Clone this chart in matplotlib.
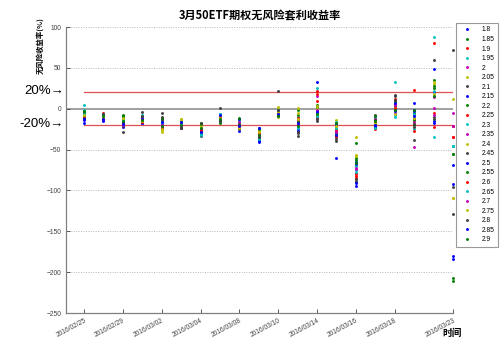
import matplotlib
matplotlib.use('Agg')
import matplotlib.pyplot as plt
import numpy as np

plt.rcParams['font.family'] = ['Liberation Sans', 'Noto Sans CJK SC', 'DejaVu Sans']

# trading days (x axis is day index), ticks shown only on some of them
days = ['2016/02/25', '2016/02/26', '2016/02/29', '2016/03/01', '2016/03/02',
        '2016/03/03', '2016/03/04', '2016/03/07', '2016/03/08', '2016/03/09',
        '2016/03/10', '2016/03/11', '2016/03/14', '2016/03/15', '2016/03/16',
        '2016/03/17', '2016/03/18', '2016/03/21', '2016/03/22', '2016/03/23']
tick_days = [0, 2, 4, 6, 8, 10, 12, 14, 16, 19]

strikes = ['1.8', '1.85', '1.9', '1.95', '2', '2.05', '2.1', '2.15', '2.2', '2.25',
           '2.3', '2.35', '2.4', '2.45', '2.5', '2.55', '2.6', '2.65', '2.7', '2.75',
           '2.8', '2.85', '2.9']

# risk-free arbitrage return (%) per day, one value per strike
d0225 = [-17, -9, -7, 4, -11, -6, -13, -10, -5, -8, -2, -12, -9, -4, -14, -7, -10, -6, -12, -8, -11, -13, -3]
d0226 = [-14, -8, -10, -6, -12, -9, -7, -13, -11, -5, -10, -14, -8, -12, -15, -9, -11, -7, -13, -10, -6, -12, -9]
d0229 = [-20, -9, -16, -14, -18, -12, -28, -22, -10, -17, -15, -19, -13, -21, -16, -8, -18, -14, -20, -11, -17, -19, -15]
d0301 = [-15, -12, -10, -14, -16, -9, -4, -17, -13, -11, -8, -15, -12, -14, -18, -10, -16, -13, -11, -15, -9, -12, -14]
d0302 = [-18, -13, -22, -16, -20, -28, -5, -24, -12, -19, -15, -21, -26, -14, -17, -11, -23, -18, -20, -25, -10, -16, -21]
d0303 = [-20, -14, -22, -17, -19, -13, -24, -18, -15, -21, -16, -23, -12, -20, -18, -22, -17, -19, -21, -14, -23, -16, -20]
d0304 = [-28, -22, -25, -30, -24, -20, -33, -26, -18, -27, -31, -23, -21, -29, -25, -19, -26, -32, -24, -22, -17, -28, -23]
d0307 = [-9, -12, -14, -7, -11, -15, 1, -10, -13, -8, -16, -12, -9, -14, -11, -17, -10, -6, -13, -11, -15, -8, -12]
d0308 = [-24, -16, -20, -14, -22, -12, -18, -27, -19, -21, -15, -23, -17, -25, -13, -20, -22, -18, -16, -24, -19, -21, -11]
d0309 = [-41, -30, -28, -35, -33, -26, -38, -24, -32, -29, -36, -31, -27, -34, -39, -25, -30, -37, -33, -28, -35, -23, -32]
d0310 = [-4, -8, -2, -6, -3, -10, 22, -5, -1, -7, -4, -9, 2, -6, -3, -8, -5, -2, -7, -4, -1, -6, -9]
d0311 = [-25, -2, -15, -10, -20, 1, -30, -12, -8, -18, -22, -14, -5, -33, -27, -16, -11, -24, -19, -13, -28, -17, -21]
d0314 = [33, 2, 22, -5, 15, -8, -10, -2, 5, 18, 26, -12, 0, -15, -3, -6, 10, -9, -1, 3, -13, -4, -7]
d0315 = [-60, -25, -18, -30, -22, -14, -35, -28, -20, -33, -16, -26, -24, -39, -19, -31, -27, -23, -29, -21, -37, -32, -17]
d0316 = [-94, -60, -85, -70, -78, -34, -88, -65, -42, -80, -75, -72, -58, -90, -68, -63, -82, -77, -74, -56, -86, -91, -66]
d0317 = [-20, -12, -16, -10, -18, -14, -8, -22, -15, -25, -11, -17, -13, -19, -21, -9, -16, -23, -12, -18, -14, -20, -15]
d0318 = [10, 5, 0, 33, -5, 8, 15, 3, -2, 12, -8, 6, 2, 17, -3, 9, 1, -10, 4, -6, 11, 7, -1]
d0321 = [7, -5, 23, -10, -47, -15, -38, -3, -20, -12, -25, -8, -18, -22, -1, -14, -27, -6, -16, -11, -19, -9, -2]
d0322 = [49, 25, 80, 88, 14, 30, 60, 20, 35, -5, -34, 1, 18, -10, -15, 28, -22, 22, -8, 33, -12, -18, 16]
d0323 = [-184, -211, -34, -45, -21, -109, 72, -180, -55, -21, -45, -5, 12, -96, -69, -207, -34, -45, -21, -109, -129, -92, -55]

returns = np.array([d0225, d0226, d0229, d0301, d0302, d0303, d0304, d0307, d0308, d0309,
                    d0310, d0311, d0314, d0315, d0316, d0317, d0318, d0321, d0322, d0323])

# old matlab colour order b g r c m y k
colors = [(0, 0, 1), (0, 0.5, 0), (1, 0, 0), (0, 0.75, 0.75),
          (0.75, 0, 0.75), (0.75, 0.75, 0), (0.25, 0.25, 0.25)]

fig = plt.figure(figsize=(5.0, 3.51), dpi=100)
ax = fig.add_axes([0.132, 0.108, 0.774, 0.815])

x = np.arange(len(days))
for k in range(len(strikes)):
    ax.plot(x, returns[:, k], 'o', color=colors[k % 7], markersize=2.1,
            markeredgewidth=0, label=strikes[k], clip_on=False, zorder=3)

ax.axhline(0, color='#909090', lw=1.2, zorder=0)
ax.plot([0, 19], [20, 20], color='#e05050', lw=0.9, zorder=0)
ax.plot([0, 19], [-20, -20], color='#e05050', lw=0.9, zorder=0)
for g in [100, 50, -50, -100, -150, -200]:
    ax.axhline(g, color='#b8b8b8', lw=0.7, ls=(0, (1, 1.5)), zorder=0)

ax.set_xlim(-0.93, 19)
ax.set_ylim(-250, 100)
ax.set_yticks([100, 50, 0, -50, -100, -150, -200, -250])
ax.set_xticks(tick_days)
ax.set_xticklabels([days[i] for i in tick_days], rotation=28, ha='right',
                   rotation_mode='anchor')
ax.tick_params(direction='in', labelsize=4.8, colors='#404040', length=3, width=0.6)
ax.tick_params(axis='x', pad=3)
for s in ['top', 'right']:
    ax.spines[s].set_visible(False)
for s in ['left', 'bottom']:
    ax.spines[s].set_color('#808080')
    ax.spines[s].set_linewidth(0.9)

fig.text(0.519, 0.955, '3月50ETF期权无风险套利收益率', ha='center', va='center',
         fontsize=8, fontweight='bold', family=['Noto Sans CJK SC', 'DejaVu Sans'])
fig.text(0.08, 0.95, '无风险收益率(%)', rotation=90, ha='center', va='top',
         fontsize=5.3, fontweight='bold', family=['Noto Sans CJK SC', 'DejaVu Sans'])
fig.text(0.905, 0.05, '时间', ha='center', va='center', fontsize=7,
         fontweight='bold', family=['Noto Sans CJK SC', 'DejaVu Sans'])

fig.text(0.128, 1 - 91 / 351, '20%→', ha='right', va='center', fontsize=9.5,
         family=['Liberation Sans', 'DejaVu Sans'])
fig.text(0.128, 1 - 124 / 351, '-20%→', ha='right', va='center', fontsize=9.5,
         family=['Liberation Sans', 'DejaVu Sans'])

leg = fig.legend(loc='upper left', bbox_to_anchor=(0.912, 0.934), fontsize=4.8,
                 frameon=True, fancybox=False, edgecolor='#808080',
                 borderpad=0.5, labelspacing=0.38, handlelength=2.4,
                 handletextpad=1.0, markerscale=1.0, borderaxespad=0)
leg.get_frame().set_linewidth(0.8)
leg.set_zorder(5)

fig.savefig('out.png', dpi=100)
